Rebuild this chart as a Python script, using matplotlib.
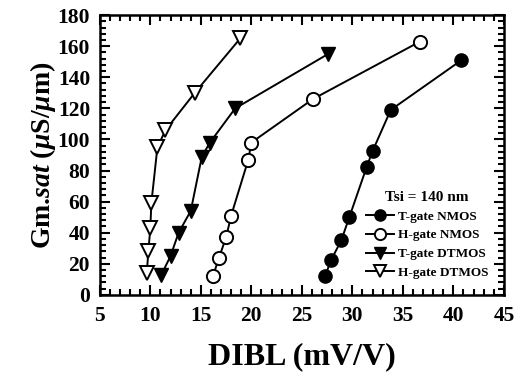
import matplotlib
matplotlib.use("Agg")
import matplotlib.pyplot as plt
from matplotlib.ticker import MultipleLocator

plt.rcParams['font.family'] = ['Liberation Serif', 'DejaVu Serif']
plt.rcParams['font.weight'] = 'bold'
plt.rcParams['mathtext.fontset'] = 'custom'
plt.rcParams['mathtext.it'] = 'Liberation Serif:italic:bold'
plt.rcParams['mathtext.rm'] = 'Liberation Serif:bold'

# T-gate NMOS (filled circles)
tn_x = [27.3, 27.9, 28.9, 29.7, 31.4, 32.0, 33.8, 40.8]
tn_y = [12, 22.5, 35, 50, 82, 92.5, 119, 151]
# H-gate NMOS (open circles)
hn_x = [16.2, 16.8, 17.5, 18.0, 19.7, 20.0, 26.1, 36.7]
hn_y = [12, 24, 37, 51, 87, 98, 126, 163]
# T-gate DTMOS (filled down triangles)
td_x = [11.1, 12.0, 12.8, 14.0, 15.1, 15.9, 18.4, 27.6]
td_y = [13, 25, 40, 54, 89, 98, 120, 155]
# H-gate DTMOS (open down triangles)
hd_x = [9.65, 9.8, 10.0, 10.1, 10.7, 11.5, 14.4, 18.9]
hd_y = [14, 28, 43, 59, 95, 106, 130, 165]

fig = plt.figure(figsize=(5.2, 3.78), dpi=100)
ax = fig.add_axes([0.192, 0.22, 0.777, 0.74])

ms = 9.5
ax.plot(tn_x, tn_y, 'k-', marker='o', ms=ms, mfc='k', mec='k', lw=1.4, label='T-gate NMOS')
ax.plot(hn_x, hn_y, 'k-', marker='o', ms=ms, mfc='white', mec='k', mew=1.4, lw=1.4, label='H-gate NMOS')
ax.plot(td_x, td_y, 'k-', marker='v', ms=ms, mfc='k', mec='k', lw=1.4, label='T-gate DTMOS')
ax.plot(hd_x, hd_y, 'k-', marker='v', ms=ms, mfc='white', mec='k', mew=1.4, lw=1.4, label='H-gate DTMOS')

ax.set_xlim(5, 45)
ax.set_ylim(0, 180)
ax.xaxis.set_major_locator(MultipleLocator(5))
ax.xaxis.set_minor_locator(MultipleLocator(1))
ax.yaxis.set_major_locator(MultipleLocator(20))
ax.yaxis.set_minor_locator(MultipleLocator(4))
ax.tick_params(which='both', direction='in', top=True, right=True, width=1.5)
ax.tick_params(which='major', length=7, labelsize=15.5)
ax.tick_params(axis='x', which='major', pad=8)
ax.tick_params(axis='y', which='major', pad=7)
ax.tick_params(which='minor', length=4)
for s in ax.spines.values():
    s.set_linewidth(1.8)

ax.set_xlabel('DIBL (mV/V)', fontsize=23, fontweight='bold', labelpad=12)
ax.set_ylabel(r'Gm.$\mathit{sat}$ ($\mu$S/$\mu$m)', fontsize=20, fontweight='bold', labelpad=0)

leg = ax.legend(loc='lower right', frameon=False, title='Tsi = 140 nm',
                prop={'size': 9.5, 'weight': 'bold'}, handlelength=2.1,
                handletextpad=0.3, labelspacing=0.5, borderaxespad=0.8,
                markerscale=0.85)
leg.get_title().set_fontweight('bold')
leg.get_title().set_fontsize(11)

fig.savefig('out.png', dpi=100)
